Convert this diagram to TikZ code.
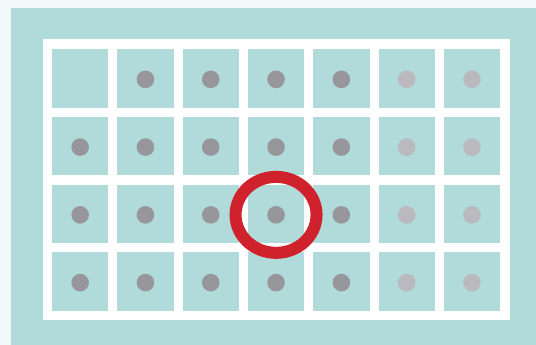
\documentclass[tikz,border=0pt]{standalone}
\usetikzlibrary{positioning}

\definecolor{paleback}{RGB}{241,249,248}
\definecolor{tealbox}{RGB}{176,219,218}
\definecolor{dotdark}{RGB}{150,150,155}
\definecolor{dotlight}{RGB}{185,185,190}
\definecolor{ringred}{RGB}{208,34,45}

\begin{document}
\begin{tikzpicture}[
  x=1pt,y=-1pt,
  cell/.style={rectangle,fill=tealbox,inner sep=0pt,minimum width=56.3pt,minimum height=58.7pt},
  dark/.style={fill=dotdark},
  light/.style={fill=dotlight},
  ring/.style={draw=ringred,line width=12pt}
]
% canvas
\fill[paleback] (0,0) rectangle (536,345);
\useasboundingbox (0,0) rectangle (536,345);
\fill[tealbox] (11,8) rectangle (536,345);
\fill[white] (42.7,39.3) rectangle (510,320);

% cells
\foreach \r in {1,...,4}{
  \foreach \c in {1,...,7}{
    \node[cell] (c-\r-\c) at ({80.15+(\c-1)*65.3},{78.35+(\r-1)*67.75}) {};
  }
}

% dots
\foreach \r in {1,...,4}{
  \foreach \c in {1,...,5}{
    \ifnum\r\c=11\else
      \fill[dark] ([yshift=-1pt]c-\r-\c.center) circle (8.8);
    \fi
  }
  \foreach \c in {6,7}{
    \fill[light] ([yshift=-1pt]c-\r-\c.center) circle (8.8);
  }
}

% marker
\draw[ring] ([yshift=-1pt]c-3-4.center) ellipse (40.5 and 38);
\end{tikzpicture}
\end{document}
